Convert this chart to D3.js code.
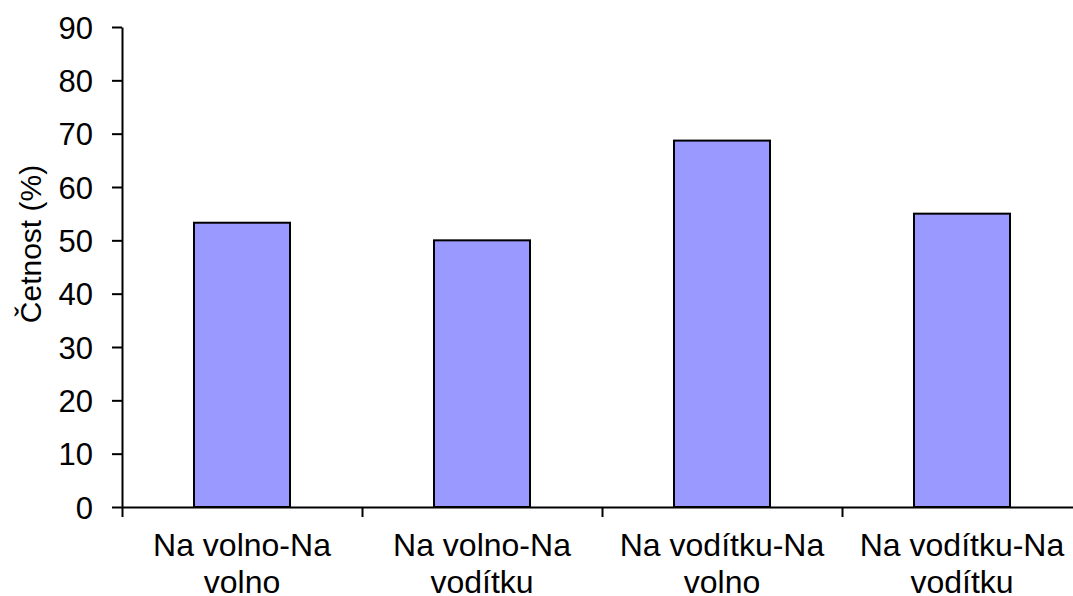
<!DOCTYPE html>
<html>
<head>
<meta charset="utf-8">
<script src="https://cdn.jsdelivr.net/npm/d3@7"></script>
<style>
  body { margin: 0; background: #fff; }
  svg text { font-family: "Liberation Sans", Arial, sans-serif; fill: #000; }
</style>
</head>
<body>
<div id="chart"></div>
<script>
'use strict';

var categories = [
  ['Na volno-Na', 'volno'],
  ['Na volno-Na', 'vodítku'],
  ['Na vodítku-Na', 'volno'],
  ['Na vodítku-Na', 'vodítku']
];
var values = [53.3, 50, 68.7, 55];
var yTicks = [0, 10, 20, 30, 40, 50, 60, 70, 80, 90];

var W = 1073, H = 596;
var plotLeft = 122, plotTop = 27, plotBottom = 507, plotRight = 1082;

var svg = d3.select('#chart')
    .append('svg')
    .attr('width', W)
    .attr('height', H);

var x = d3.scaleBand()
    .domain(d3.range(categories.length))
    .range([plotLeft, plotRight])
    .paddingInner(0.6)
    .paddingOuter(0.3);

var xEdges = d3.scaleLinear()
    .domain([0, categories.length])
    .range([plotLeft, plotRight]);

var y = d3.scaleLinear()
    .domain([0, 90])
    .range([plotBottom, plotTop]);

// bars
svg.selectAll('rect.bar')
    .data(values)
    .enter().append('rect')
    .attr('class', 'bar')
    .attr('x', function(d, i) { return x(i); })
    .attr('y', function(d) { return y(d); })
    .attr('width', x.bandwidth())
    .attr('height', function(d) { return plotBottom - y(d); })
    .style('fill', '#9999ff')
    .style('stroke', '#000')
    .style('stroke-width', 2);

// y axis
var yAxis = svg.append('g')
    .attr('transform', 'translate(' + plotLeft + ',0)')
    .call(d3.axisLeft(y).tickValues(yTicks).tickSize(10).tickPadding(19).tickSizeOuter(0));
yAxis.selectAll('text').style('font-size', '31px').attr('dy', '0.36em');

// x axis, ticks at category edges
var xAxis = svg.append('g')
    .attr('transform', 'translate(0,' + plotBottom + ')')
    .call(d3.axisBottom(xEdges).tickValues([0, 1, 2, 3, 4]).tickSize(10).tickFormat('').tickSizeOuter(0));

svg.selectAll('.domain, .tick line')
    .style('stroke', '#000')
    .style('stroke-width', 2);

// category labels
var labels = svg.selectAll('text.cat')
    .data(categories)
    .enter().append('text')
    .attr('class', 'cat')
    .attr('text-anchor', 'middle')
    .style('font-size', '32px')
    .attr('x', function(d, i) { return x(i) + x.bandwidth() / 2; })
    .attr('y', 556);
labels.each(function(d) {
  var t = d3.select(this);
  d.forEach(function(line, k) {
    t.append('tspan')
      .attr('x', t.attr('x'))
      .attr('dy', k === 0 ? 0 : 37)
      .text(line);
  });
});

// y title
svg.append('text')
    .attr('transform', 'translate(41,244) rotate(-90)')
    .attr('text-anchor', 'middle')
    .style('font-size', '30px')
    .text('Četnost (%)');
</script>
</body>
</html>
